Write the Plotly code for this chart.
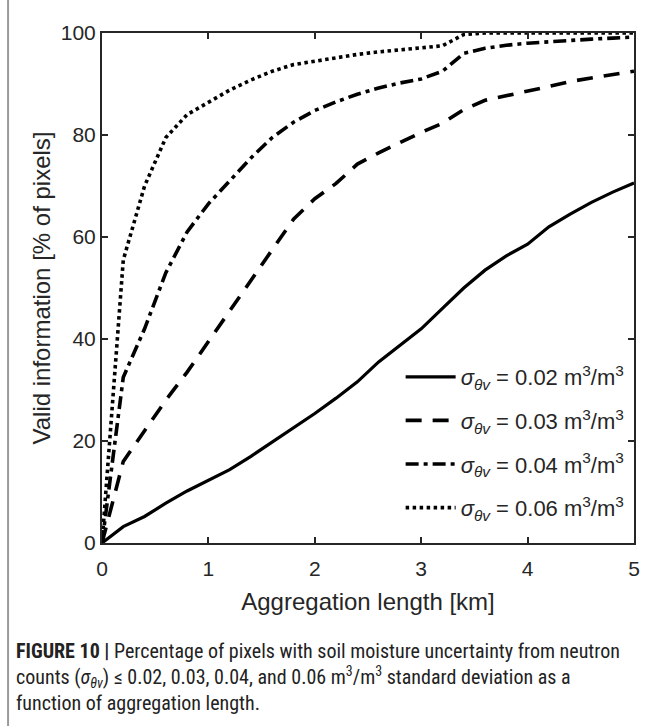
import plotly.graph_objects as go

# ---- data ----
agg_length_km = [0, 0.2, 0.4, 0.6, 0.8, 1.0, 1.2, 1.4, 1.6, 1.8, 2.0, 2.2, 2.4,
                 2.6, 2.8, 3.0, 3.2, 3.4, 3.6, 3.8, 4.0, 4.2, 4.4, 4.6, 4.8, 5.0]
valid_002 = [0, 3.2, 5.2, 7.8, 10.2, 12.3, 14.4, 17.0, 19.8, 22.6, 25.4, 28.4, 31.6,
             35.5, 38.8, 42.0, 46.0, 50.0, 53.5, 56.3, 58.6, 62.0, 64.5, 66.8, 68.8, 70.6]
valid_003 = [0, 16.0, 22.0, 28.0, 33.5, 39.5, 45.5, 51.5, 57.5, 63.5, 67.5, 70.5, 74.3,
             76.5, 78.5, 80.5, 82.3, 85.0, 86.8, 87.7, 88.5, 89.5, 90.5, 91.2, 91.8, 92.5]
valid_004 = [0, 32.5, 42.0, 53.0, 61.0, 66.5, 71.0, 75.5, 79.5, 82.5, 84.8, 86.5, 88.0,
             89.2, 90.2, 91.0, 92.5, 96.0, 97.0, 97.6, 98.0, 98.3, 98.6, 98.8, 99.0, 99.2]
valid_006 = [0, 55.5, 70.0, 79.5, 84.0, 86.5, 88.8, 90.8, 92.5, 93.8, 94.5, 95.2, 95.8,
             96.3, 96.7, 97.0, 97.5, 99.7, 100, 100, 100, 100, 100, 100, 100, 100]

series_names = [
    "<i>σ</i><sub><i>θv</i></sub> = 0.02 m<sup>3</sup>/m<sup>3</sup>",
    "<i>σ</i><sub><i>θv</i></sub> = 0.03 m<sup>3</sup>/m<sup>3</sup>",
    "<i>σ</i><sub><i>θv</i></sub> = 0.04 m<sup>3</sup>/m<sup>3</sup>",
    "<i>σ</i><sub><i>θv</i></sub> = 0.06 m<sup>3</sup>/m<sup>3</sup>",
]
x_ticks = [0, 1, 2, 3, 4, 5]
y_ticks = [0, 20, 40, 60, 80, 100]

styles = [
    dict(width=3.2, dash="solid"),
    dict(width=3.6, dash="16px,11px"),
    dict(width=3.6, dash="13px,5px,4px,5px"),
    dict(width=3.6, dash="3.5px,3.5px"),
]

fig = go.Figure()
for name, ys, st in zip(series_names, [valid_002, valid_003, valid_004, valid_006], styles):
    fig.add_trace(go.Scatter(
        x=agg_length_km, y=ys, mode="lines", name=name, legendgroup=name,
        line=dict(color="black", width=st["width"], dash=st["dash"]),
    ))

W, H = 652, 726
L, R, T, B = 102, 12, 33, 183
ph = H - T - B

def py(p):  # pixel y -> paper y
    return (H - B - p) / ph

def px(p):
    return (p - L) / (W - L - R)

FONT = "Liberation Sans, Arial, Helvetica, sans-serif"
axis_common = dict(
    showline=True, linecolor="#262626", linewidth=2, mirror="ticks",
    ticks="inside", ticklen=6, tickwidth=1.5, tickcolor="#262626",
    showgrid=False, zeroline=False,
    tickfont=dict(family=FONT, size=21, color="#262626"),
)

fig.update_layout(
    width=W, height=H,
    margin=dict(l=L, r=R, t=T, b=B),
    paper_bgcolor="white", plot_bgcolor="white",
    font=dict(family=FONT, color="#262626"),
    xaxis=dict(range=[0, 5], tickvals=x_ticks, ticklabelstandoff=6, **axis_common,
               title=dict(text="Aggregation length [km]",
                          font=dict(size=24, color="#262626"), standoff=14)),
    yaxis=dict(range=[0, 100], tickvals=y_ticks, **axis_common,
               title=dict(text="Valid information [% of pixels]",
                          font=dict(size=24, color="#262626"), standoff=3)),
    showlegend=True,
    legend=dict(x=px(404), y=py(356), xanchor="left", yanchor="top",
                bgcolor="rgba(0,0,0,0)", borderwidth=0, itemwidth=50,
                font=dict(size=22, color="#262626"), tracegroupgap=12),
)

caption = ("<b>FIGURE 10 |</b> Percentage of pixels with soil moisture uncertainty from neutron<br>"
           "counts (<i>σ</i><sub><i>θv</i></sub>) ≤ 0.02, 0.03, 0.04, and 0.06 m<sup>3</sup>/m<sup>3</sup> standard deviation as a<br>"
           "function of aggregation length.")
fig.add_annotation(
    xref="paper", yref="paper", x=px(13), y=py(637), xanchor="left", yanchor="top",
    text=caption, showarrow=False, align="left",
    font=dict(family="Liberation Sans Narrow, Arial Narrow, Roboto Condensed, sans-serif",
              size=20, color="#222"),
)
fig.add_shape(type="line", xref="paper", yref="paper",
              x0=px(7), x1=px(7), y0=py(0), y1=py(H),
              line=dict(color="#9a9a9a", width=2))

fig.write_html("out.html")
